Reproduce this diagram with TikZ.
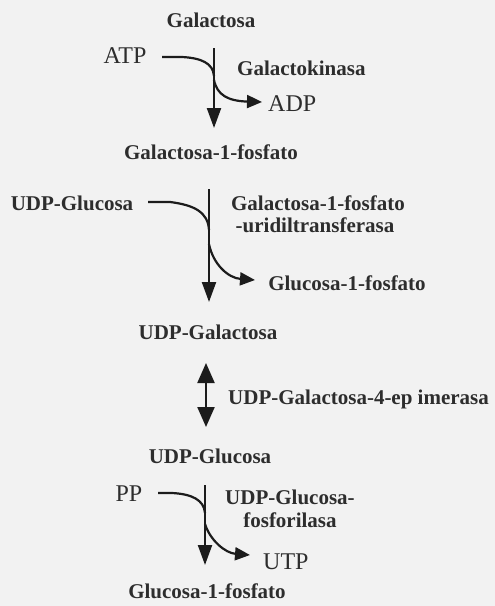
\documentclass[tikz,border=0pt]{standalone}
\usepackage{fontspec}
\setmainfont{Liberation Serif}
\usetikzlibrary{arrows.meta}
\definecolor{bg}{RGB}{242,242,242}
\definecolor{ink}{RGB}{28,28,28}
\definecolor{txt}{RGB}{45,45,45}
\begin{document}
\begin{tikzpicture}[x=1pt,y=-1pt,
  lbl/.style={inner sep=0pt, text depth=0pt, font=\fontsize{21}{23}\selectfont\bfseries, text=txt},
  big/.style={lbl, font=\fontsize{24}{26}\selectfont},
  flow/.style={line width=2.2pt, draw=ink},
  mainhead/.style={-{Triangle[length=20pt,width=14pt]}},
  sidehead/.style={-{Triangle[length=15pt,width=13pt]}},
  bothhead/.style={{Triangle[length=20pt,width=17pt]}-{Triangle[length=20pt,width=17pt]}}]
\fill[bg] (0,0) rectangle (495,606);
\useasboundingbox (0,0) rectangle (495,606);

% ---- step 1
\node[lbl] (gal) at (211,20) {Galactosa};
\node[big] (atp) at (125,56) {ATP};
\node[lbl,anchor=west] (gk) at (237,68) {Galactokinasa};
\node[big,anchor=west] (adp) at (268,104) {ADP};
\node[lbl] (g1p) at (211,152) {Galactosa-1-fosfato};
\coordinate (s1top) at (214,48);
\coordinate (s1tip) at (214,128);
\coordinate (atpin) at (162,57);
\coordinate (s1join) at (214,76);
\coordinate (s1out) at (214,80);
\coordinate (adptip) at (262,102);
\draw[flow,mainhead] (s1top) -- (s1tip);
\draw[flow] (atpin) -- (182,57) .. controls (201,58) and (213,63) .. (s1join);
\draw[flow,sidehead] (s1out) .. controls (217,95) and (228,101) .. (adptip);

% ---- step 2
\node[lbl] (udpg1) at (72,203) {UDP-Glucosa};
\node[lbl] (enz2a) at (318,203) {Galactosa-1-fosfato};
\node[lbl] (enz2b) at (315,225) {-uridiltransferasa};
\node[lbl] (g1p2) at (347,283) {Glucosa-1-fosfato};
\node[lbl] (udpgal) at (208,332) {UDP-Galactosa};
\coordinate (s2top) at (209,189);
\coordinate (s2tip) at (209,302);
\coordinate (udpgin) at (148,202);
\coordinate (s2join) at (209,230);
\coordinate (s2out) at (209,244);
\coordinate (g1ptip) at (255,280);
\draw[flow,mainhead] (s2top) -- (s2tip);
\draw[flow] (udpgin) -- (170,202) .. controls (194,205) and (208,212) .. (s2join);
\draw[flow,sidehead] (s2out) .. controls (213,264) and (228,278) .. (g1ptip);

% ---- step 3
\coordinate (epitop) at (206,363);
\coordinate (epibot) at (206,427);
\draw[flow,bothhead] (epitop) -- (epibot);
\node[lbl,anchor=west] (epi) at (228,397) {UDP-Galactosa-4-ep imerasa};
\node[lbl] (udpglc) at (210,456) {UDP-Glucosa};

% ---- step 4
\node[big] (pp) at (129,494) {PP};
\node[lbl,anchor=west] (enz3a) at (225,497) {UDP-Glucosa-};
\node[lbl] (enz3b) at (290,520) {fosforilasa};
\node[big,anchor=west] (utp) at (263,562) {UTP};
\node[lbl] (g1pf) at (207,591) {Glucosa-1-fosfato};
\coordinate (s4top) at (205,485);
\coordinate (s4tip) at (205,565);
\coordinate (ppin) at (158,493);
\coordinate (s4join) at (205,513);
\coordinate (s4out) at (205,524);
\coordinate (utptip) at (250,555);
\draw[flow,mainhead] (s4top) -- (s4tip);
\draw[flow] (ppin) -- (172,493) .. controls (192,494) and (204,500) .. (s4join);
\draw[flow,sidehead] (s4out) .. controls (210,540) and (225,553) .. (utptip);
\end{tikzpicture}
\end{document}
